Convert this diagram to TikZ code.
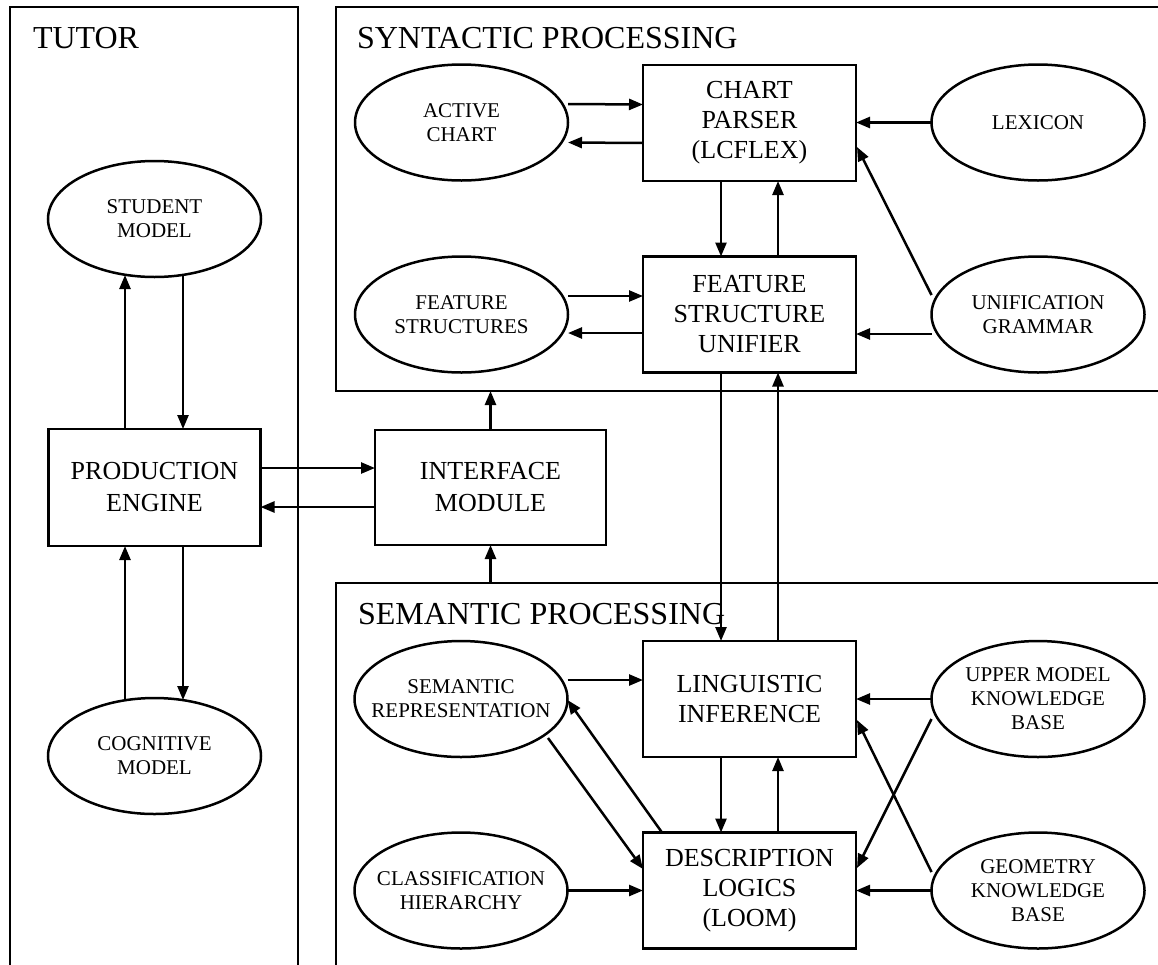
\documentclass[tikz,border=0pt]{standalone}
\usepackage{fontspec}
\setmainfont{Liberation Serif}
\usetikzlibrary{arrows.meta,calc,shapes.geometric}
\begin{document}
\begin{tikzpicture}[x=1pt,y=-1pt,
  every node/.style={inner sep=0pt, outer sep=0pt},
  frame/.style={line width=2.5pt},
  title/.style={anchor=base west, font=\fontsize{32}{36}\selectfont},
  proc/.style={draw, line width=2.5pt, minimum width=213pt, minimum height=116pt,
    align=center, font=\fontsize{26}{30}\selectfont},
  storetext/.style={align=center, font=\fontsize{21}{24}\selectfont},
  % fixed-size ellipse; its text is set as a centred label so long words do not widen it
  store/.style={draw, ellipse, line width=2.5pt, minimum width=213pt, minimum height=116pt,
    label={[storetext]center:#1}},
  arr/.style={line width=2.5pt, -{Triangle[length=14pt,width=11pt]}}]

\useasboundingbox (0,0) rectangle (1158,964);
\clip (0,0) rectangle (1158,964);

% module frames (they run off the page to the right and bottom)
\draw[frame] (10,7) rectangle (298,1010);
\draw[frame] (336,7) rectangle (1210,391);
\draw[frame] (336,583) rectangle (1210,1010);
\coordinate (synbot) at (490.5,391);
\coordinate (semtop) at (490.5,583);

\node[title] (ttut) at (33,48) {TUTOR};
\node[title] (tsyn) at (357,48) {SYNTACTIC PROCESSING};
\node[title] (tsem) at (358,624) {SEMANTIC PROCESSING};

% tutor
\node[store={STUDENT\\MODEL}] (sm) at (154.5,219) {};
\node[proc, minimum width=212pt, minimum height=117pt,
  font=\fontsize{26}{32}\selectfont] (pe) at (154.5,487.5) {PRODUCTION\\ENGINE};
\node[store={COGNITIVE\\MODEL}] (cog) at (154.5,756) {};

% interface
\node[proc, minimum width=231pt, minimum height=115pt,
  font=\fontsize{26}{32}\selectfont] (im) at (490.5,487.5) {INTERFACE\\MODULE};

% syntactic processing
\node[store={ACTIVE\\CHART}] (ac) at (461.5,122.5) {};
\node[proc] (cp) at (749.5,123) {CHART\\PARSER\\(LCFLEX)};
\node[store={LEXICON}] (lex) at (1038,122.5) {};
\node[store={FEATURE\\STRUCTURES}] (fs) at (461.5,314.5) {};
\node[proc] (fsu) at (749.5,314.5) {FEATURE\\STRUCTURE\\UNIFIER};
\node[store={UNIFICATION\\GRAMMAR}] (ug) at (1038,314.5) {};

% semantic processing
\node[store={SEMANTIC\\REPRESENTATION}] (sr) at (461,699) {};
\node[proc] (li) at (749.5,699) {LINGUISTIC\\INFERENCE};
\node[store={UPPER MODEL\\KNOWLEDGE\\BASE}] (um) at (1038,699) {};
\node[store={CLASSIFICATION\\HIERARCHY}] (ch) at (461,890.5) {};
\node[proc] (dl) at (749.5,890.5) {DESCRIPTION\\LOGICS\\(LOOM)};
\node[store={GEOMETRY\\KNOWLEDGE\\BASE}] (gk) at (1038,890.5) {};

% tutor connectors
\draw[arr] ($(pe.north)+(-29.5,0)$) -- ($(sm.south)+(-29.5,-2)$);
\draw[arr] ($(sm.south)+(28.5,-2)$) -- ($(pe.north)+(28.5,0)$);
\draw[arr] ($(cog.north)+(-29.5,2)$) -- ($(pe.south)+(-29.5,0)$);
\draw[arr] ($(pe.south)+(28.5,0)$) -- ($(cog.north)+(28.5,2)$);

% tutor <-> interface <-> processing modules
\draw[arr] ($(pe.east)+(0,-19.5)$) -- ($(im.west)+(0,-19.5)$);
\draw[arr] ($(im.west)+(0,19.5)$) -- ($(pe.east)+(0,19.5)$);
\draw[arr] (im.north) -- (synbot);
\draw[arr] (semtop) -- (im.south);

% syntactic connectors
\draw[arr] ($(ac.east)+(0,-18.5)$) -- ($(cp.west)+(0,-18.5)$);
\draw[arr] ($(cp.west)+(0,20)$) -- ($(ac.east)+(0,20)$);
\draw[arr] (lex.west) -- (lex.west -| cp.east);
\draw[arr] ($(fs.east)+(0,-18.5)$) -- ($(fsu.west)+(0,-18.5)$);
\draw[arr] ($(fsu.west)+(0,18.5)$) -- ($(fs.east)+(0,18.5)$);
\draw[arr] ($(ug.west)+(0,19.5)$) -- ($(fsu.east)+(0,19.5)$);
\draw[arr] ($(ug.west)+(0,-19.5)$) -- ($(cp.east)+(1,24)$);
\draw[arr] ($(cp.south)+(-28.5,0)$) -- ($(fsu.north)+(-28.5,0)$);
\draw[arr] ($(fsu.north)+(28.5,0)$) -- ($(cp.south)+(28.5,0)$);

% between syntactic and semantic processing
\draw[arr] ($(fsu.south)+(-28.5,0)$) -- ($(li.north)+(-28.5,0)$);
\draw[arr] ($(li.north)+(28.5,0)$) -- ($(fsu.south)+(28.5,0)$);

% semantic connectors
\draw[arr] ($(sr.east)+(0,-19)$) -- ($(li.west)+(0,-19)$);
\draw[arr] (um.west) -- (um.west -| li.east);
\draw[arr] (ch.east) -- (ch.east -| dl.west);
\draw[arr] (gk.west) -- (gk.west -| dl.east);
\draw[arr] ($(li.south)+(-28.5,0)$) -- ($(dl.north)+(-28.5,0)$);
\draw[arr] ($(dl.north)+(28.5,0)$) -- ($(li.south)+(28.5,0)$);
\draw[arr] ($(sr.center)+(87,39)$) -- ($(dl.west)+(0,-21.5)$);
\draw[arr] ($(dl.north west)+(19,0)$) -- ($(sr.east)+(0,1)$);
\draw[arr] ($(um.west)+(0,20)$) -- ($(dl.east)+(1,-22.5)$);
\draw[arr] ($(gk.west)+(0,-18.5)$) -- ($(li.east)+(1,21)$);
\end{tikzpicture}
\end{document}
